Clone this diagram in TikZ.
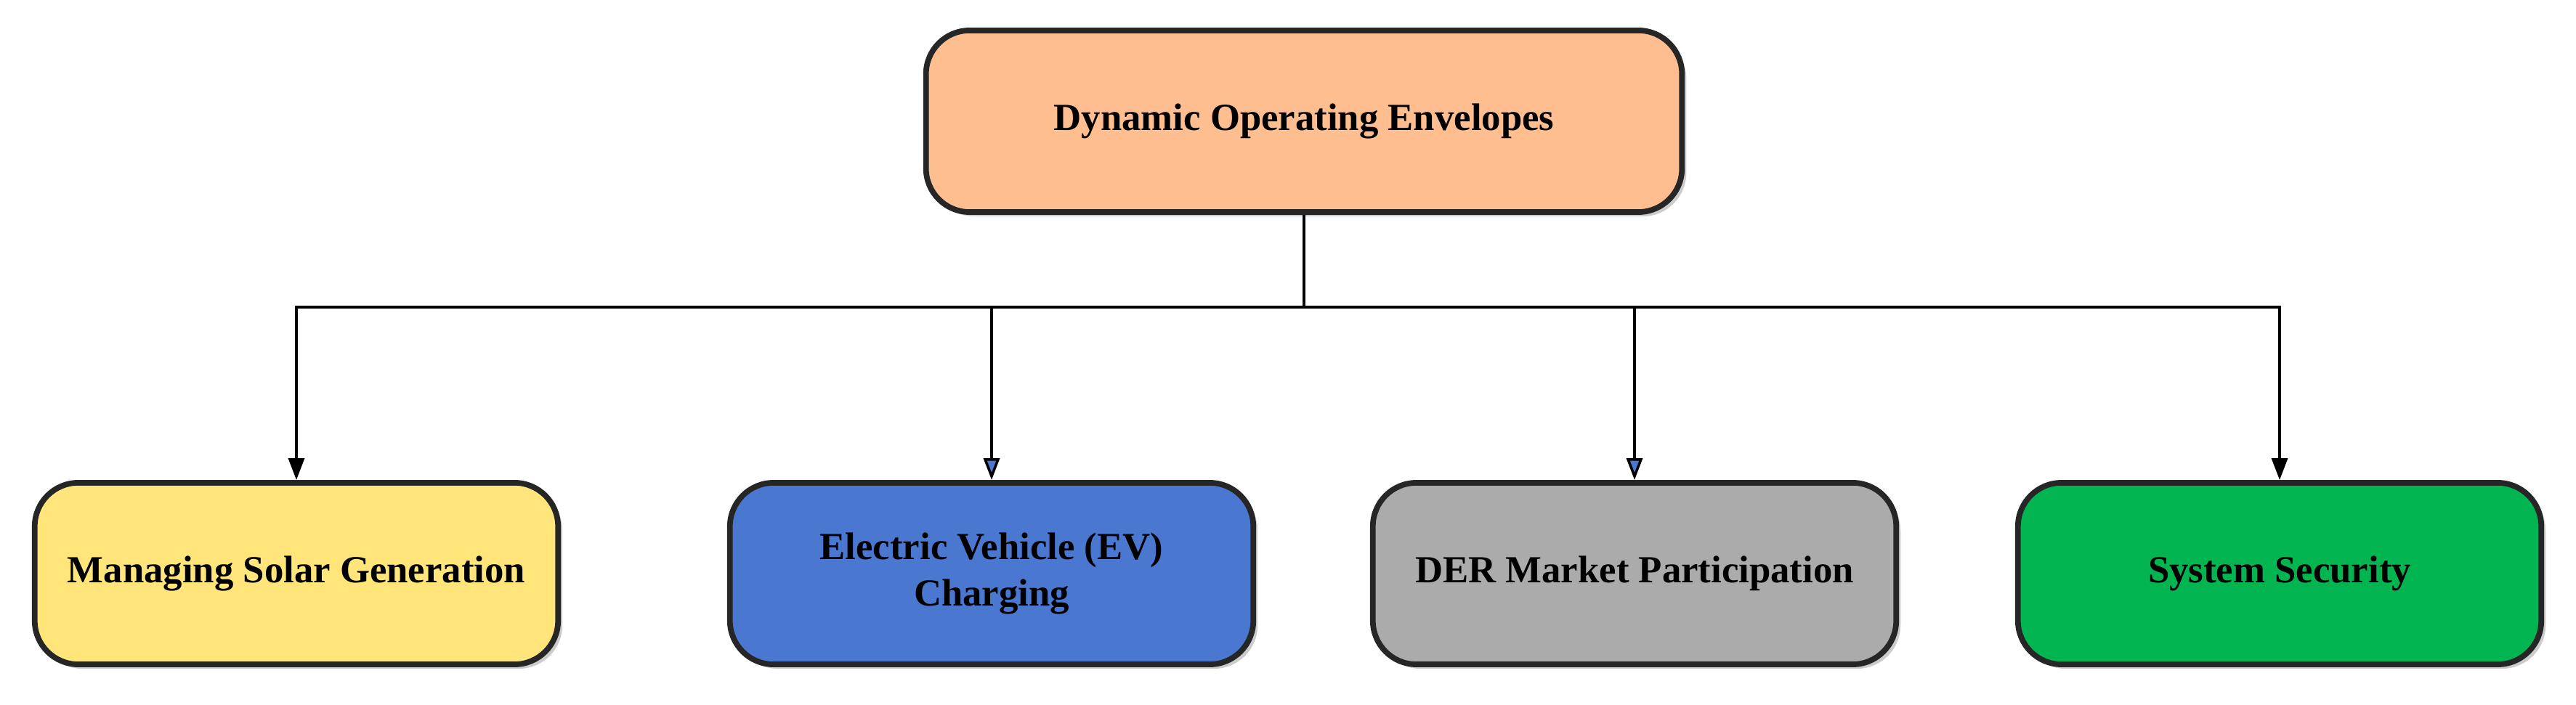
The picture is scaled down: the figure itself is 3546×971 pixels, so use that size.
\documentclass[tikz,border=0pt]{standalone}
\usepackage{fontspec}
\setmainfont{Liberation Serif}
\usetikzlibrary{arrows.meta,shadows}
\definecolor{corange}{HTML}{FFBE90}
\definecolor{cyellow}{HTML}{FFE57A}
\definecolor{cblue}{HTML}{4A78D0}
\definecolor{cgray}{HTML}{ABABAB}
\definecolor{cgreen}{HTML}{03B551}
\begin{document}
\begin{tikzpicture}[x=0.01cm,y=-0.01cm,
 box/.style={draw=black!85,line width=2.2pt,rounded corners=0.6cm,minimum width=7.2cm,minimum height=2.5cm,
   align=center,font=\fontsize{15}{18}\selectfont\bfseries,drop shadow={shadow xshift=0.06cm,shadow yshift=-0.06cm,opacity=0.4}},
 conn/.style={line width=1pt,draw=black},
 arr/.style={conn,-{Triangle[length=0.3cm,width=0.22cm]}},
 barr/.style={conn,-{Triangle[length=0.3cm,width=0.22cm,fill=cblue]}}]
\useasboundingbox (0,0) rectangle (3546,971);
\node[box,fill=corange,minimum width=10.4cm] (top) at (1795,167) {Dynamic Operating Envelopes};
\node[box,fill=cyellow] (a) at (408,790) {Managing Solar Generation};
\node[box,fill=cblue] (b) at (1365,790) {Electric Vehicle (EV)\\Charging};
\node[box,fill=cgray] (c) at (2250,790) {DER Market Participation};
\node[box,fill=cgreen] (d) at (3138,790) {System Security};
\coordinate (j) at (1795,423);
\draw[conn] (top.south) -- (j);
\draw[arr] (j) -| (a.north);
\draw[barr] (j) -| (b.north);
\draw[barr] (j) -| (c.north);
\draw[arr] (j) -| (d.north);
\end{tikzpicture}
\end{document}
